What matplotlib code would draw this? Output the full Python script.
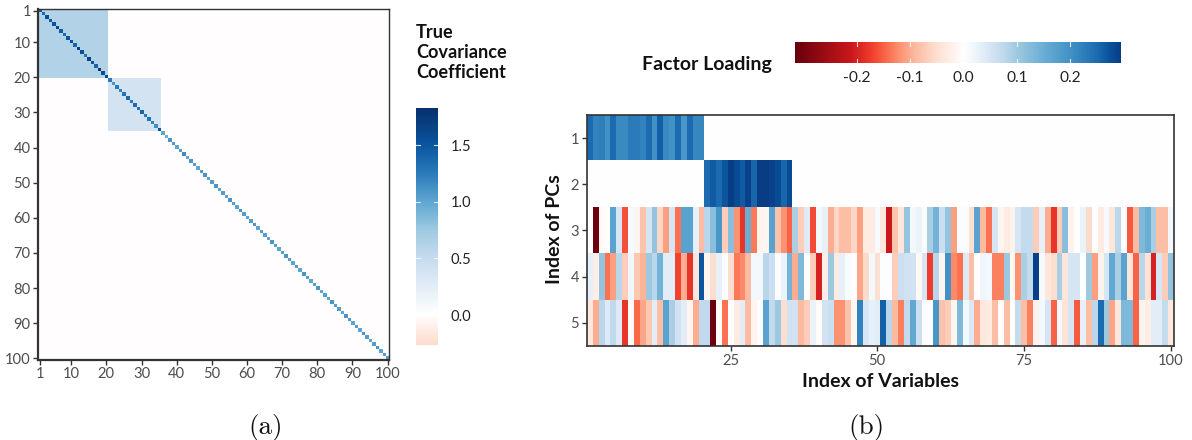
import numpy as np
import matplotlib
matplotlib.use("Agg")
import matplotlib.pyplot as plt
from matplotlib.colors import LinearSegmentedColormap

# ---- data ----
pc_labels = ["1", "2", "3", "4", "5"]
pc1_head = [.25,.22,.225,.2,.25,.21,.21,.23,.23,.22,.25,.2,.26,.21,.2,.25,.19,.25,.215,.215]
pc2_mid = [.25,.265,.25,.27,.295,.28,.265,.29,.255,.3,.3,.29,.28,.255,.28]
pc3 = [0,-.31,-.01,0,.17,.05,-.16,.01,-.015,-.08,.05,.11,-.06,-.11,.05,-.14,.17,.17,.03,-.09,
       .08,.12,.19,-.07,.12,-.12,-.18,.15,-.135,-.015,-.015,.17,-.08,-.12,-.15,.09,-.07,.04,-.165,.015,
       .03,-.10,-.06,-.085,-.085,-.06,-.11,-.03,-.03,.01,-.035,-.21,-.08,-.04,.11,.015,.025,.005,.09,.14,
       .06,.11,-.11,.005,.005,-.05,.17,-.09,-.14,.05,-.015,-.03,-.02,.05,.07,.07,-.07,.03,-.10,-.18,
       -.07,.12,-.02,0,.025,-.055,0,-.03,.01,-.04,.08,.005,-.155,-.09,.13,.15,.09,-.085,-.085,.015]
pc4 = [.03,-.025,.11,-.14,-.11,.08,-.07,.02,-.075,-.095,.10,.08,.14,.035,.035,-.17,-.10,-.18,-.04,.27,
       -.015,-.05,.03,.005,-.05,-.135,-.125,-.09,.015,.015,.08,.06,.005,.025,.14,-.1,.13,0,-.07,-.2,
       -.025,.1,-.03,.03,.008,0,-.105,-.055,.015,-.05,.003,.003,-.07,.06,.055,.055,-.01,.05,-.175,.08,
       -.015,.2,-.125,-.14,.04,-.085,0,.02,.015,-.13,-.13,.1,-.01,-.12,.09,.07,.29,.01,-.04,-.05,
       .09,-.04,.05,.05,.002,.1,-.11,-.02,.05,.16,.09,.17,-.04,-.15,.08,-.045,-.2,.05,-.07,.11]
pc5 = [-.035,-.1,.08,.04,.075,.04,-.18,-.005,-.145,-.105,-.075,.035,-.085,.17,.09,.055,.035,-.015,-.1,.075,
       .075,-.31,-.005,-.14,0,-.03,.035,-.09,-.015,0,.17,.07,.1,-.05,.055,.055,-.09,-.07,.025,-.005,
       .055,.06,-.12,-.12,-.08,-.012,.22,.045,.03,.035,.26,.08,-.09,-.13,.07,.16,.06,.005,.005,.19,
       -.08,-.07,-.015,.13,.015,.045,-.1,-.035,-.03,-.085,0,-.085,0,.07,-.085,-.13,-.02,.015,.05,-.15,
       .015,-.045,.05,-.155,.03,-.085,.08,.25,.1,-.105,-.035,.13,.13,-.15,-.02,-.025,.035,.035,.07,-.035]
diag_values = [1.45,1.35,1.55,1.45,1.5,1.6,1.45,1.35,1.5,1.55,1.4,1.7,1.55,1.3,1.65,1.5,1.4,1.75,1.55,1.6,
               1.25,1.1,1.25,1.2,1.3,1.35,1.25,1.35,1.3,1.4,1.25,1.3,1.2,1.15,1.5,
               1.0,.95,1.1,1.05,1.0,1.05,1.15,1.0,1.1,1.05,1.0,1.05,1.1,1.0,1.05,1.1,1.0,1.05,1.0,1.1,
               1.05,1.0,1.1,1.05,1.0,1.05,1.1,1.0,1.05,1.05,1.0,1.1,1.05,1.0,1.05,1.1,1.05,1.0,1.05,1.0,
               1.1,1.05,1.0,1.05,1.1,1.0,1.05,1.0,1.1,1.05,1.05,1.0,1.1,1.05,1.0,1.05,1.0,1.1,1.05,1.0,
               1.05,1.1,1.0,1.05,1.05]
block1_level = 0.62
block2_level = 0.38
background_level = -0.004
cov_ticks = [1,10,20,30,40,50,60,70,80,90,100]
var_ticks = [25,50,75,100]
cov_bar_ticks = [0.0,0.5,1.0,1.5]
load_bar_ticks = [-0.2,-0.1,0.0,0.1,0.2]

# ---- colours ----
def make_cmap(vmin, vmax, stops):
    return LinearSegmentedColormap.from_list(
        "c", [((v-vmin)/(vmax-vmin), c) for v, c in stops], N=512)

LMIN, LMAX = -0.316, 0.295
load_cmap = make_cmap(LMIN, LMAX, [
    (-.316,"#67000d"),(-.25,"#a50f15"),(-.21,"#cb181d"),(-.175,"#ef3b2c"),(-.145,"#fb6a4a"),
    (-.12,"#fc9272"),(-.09,"#fcbba1"),(-.05,"#fee0d2"),(-.015,"#fff5f0"),(0,"#ffffff"),
    (.02,"#f0f6fc"),(.05,"#d6e5f4"),(.075,"#c0d9ed"),(.1,"#9ecae1"),(.15,"#6baed6"),
    (.2,"#4292c6"),(.25,"#1d6cb1"),(.275,"#08519c"),(.295,"#083d84")])
CMIN, CMAX = -0.265, 1.83
cov_cmap = make_cmap(CMIN, CMAX, [
    (-.265,"#fedccd"),(-.1,"#fff0ea"),(0,"#ffffff"),(.25,"#e3edf7"),(.5,"#c6dbef"),
    (.75,"#9ecae1"),(1.0,"#5fa6d1"),(1.25,"#2b7bba"),(1.5,"#0b559f"),(1.83,"#08306b")])

# ---- figure ----
W, H = 1192, 440
plt.rcParams["font.family"] = ["Lato", "DejaVu Sans"]
fig = plt.figure(figsize=(W/100, H/100), dpi=100, facecolor="white")

def axpx(x0, y0, x1, y1):
    return fig.add_axes([x0/W, 1-y1/H, (x1-x0)/W, (y1-y0)/H])

EDGE = "#333333"
TXT = "#4d4d4d"
TICK = 10.6
BAR = 11.2
TITLE = 14.0

# left matrix
cov = np.full((100, 100), background_level)
cov[:20, :20] = block1_level
cov[20:35, 20:35] = block2_level
cov[np.arange(100), np.arange(100)] = diag_values
ax = axpx(37.8, 8.8, 389.4, 360)
ax.imshow(cov, cmap=cov_cmap, vmin=CMIN, vmax=CMAX, aspect="auto",
          interpolation="nearest", extent=(.5, 100.5, 100.5, .5))
ax.set_xticks(cov_ticks); ax.set_yticks(cov_ticks)
ax.tick_params(length=3.5, width=1, color=EDGE, labelcolor=TXT, labelsize=TICK, pad=1.5)
for s in ax.spines.values():
    s.set_color(EDGE); s.set_linewidth(1.0)
ax.spines["left"].set_linewidth(1.6); ax.spines["bottom"].set_linewidth(1.6)

# left colourbar
cb = axpx(416, 108, 438, 345)
cb.imshow(np.linspace(CMAX, CMIN, 256)[:, None], cmap=cov_cmap, vmin=CMIN, vmax=CMAX,
          aspect="auto", extent=(0, 1, CMIN, CMAX))
cb.set_xticks([]); cb.set_yticks(cov_bar_ticks)
cb.set_yticklabels([f"{t:.1f}" for t in cov_bar_ticks])
cb.yaxis.tick_right()
cb.tick_params(length=0, labelsize=TICK, labelcolor="#222222", pad=9)
for s in cb.spines.values():
    s.set_visible(False)
for t in cov_bar_ticks:
    cb.plot([0, .2], [t, t], color="white", lw=.8, alpha=.8)
    cb.plot([.8, 1], [t, t], color="white", lw=.8, alpha=.8)
cb.set_xlim(0, 1); cb.set_ylim(CMIN, CMAX)
for txt, y in zip(["True", "Covariance", "Coefficient"], [33, 52.5, 72.5]):
    fig.text(416/W, 1-y/H, txt, fontsize=13.1, fontweight="bold", color="#111111",
             ha="left", va="center")

# right heat map
load = np.zeros((5, 100))
load[0, :20] = pc1_head
load[1, 20:35] = pc2_mid
load[2] = pc3; load[3] = pc4; load[4] = pc5
ax2 = axpx(586.7, 115, 1173.7, 346)
ax2.imshow(load, cmap=load_cmap, vmin=LMIN, vmax=LMAX, aspect="auto",
           interpolation="nearest", extent=(.5, 100.5, 5.5, .5))
ax2.set_xticks(var_ticks); ax2.set_yticks(range(1, 6)); ax2.set_yticklabels(pc_labels)
ax2.tick_params(length=3.5, width=1, color=EDGE, labelcolor=TXT, labelsize=TICK, pad=2)
for s in ax2.spines.values():
    s.set_color(EDGE); s.set_linewidth(1.2)
fig.text(881/W, 1-381.5/H, "Index of Variables", fontsize=TITLE, fontweight="bold",
         color="#111111", ha="center", va="center")
fig.text(554/W, 1-229/H, "Index of PCs", fontsize=TITLE, fontweight="bold", rotation=90,
         color="#111111", ha="center", va="center")

# right colourbar
cb2 = axpx(795, 42, 1121, 63)
cb2.imshow(np.linspace(LMIN, LMAX, 512)[None, :], cmap=load_cmap, vmin=LMIN, vmax=LMAX,
           aspect="auto", extent=(LMIN, LMAX, 0, 1))
cb2.set_yticks([]); cb2.set_xticks(load_bar_ticks)
cb2.set_xticklabels([f"{t:.1f}" for t in load_bar_ticks])
cb2.tick_params(length=0, labelsize=BAR, labelcolor="#222222", pad=6)
for s in cb2.spines.values():
    s.set_visible(False)
for t in load_bar_ticks:
    cb2.plot([t, t], [0, .2], color="white", lw=.8, alpha=.8)
    cb2.plot([t, t], [.8, 1], color="white", lw=.8, alpha=.8)
cb2.set_xlim(LMIN, LMAX); cb2.set_ylim(0, 1)
fig.text(642/W, 1-64/H, "Factor Loading", fontsize=TITLE, fontweight="bold", color="#111111",
         ha="left", va="center")

# panel captions
fig.text(266/W, 1-427/H, "(a)", family="cmr10", fontsize=19.5, ha="center", va="center", color="#111111")
fig.text(866/W, 1-427/H, "(b)", family="cmr10", fontsize=19.5, ha="center", va="center", color="#111111")

fig.savefig("out.png", dpi=100)
